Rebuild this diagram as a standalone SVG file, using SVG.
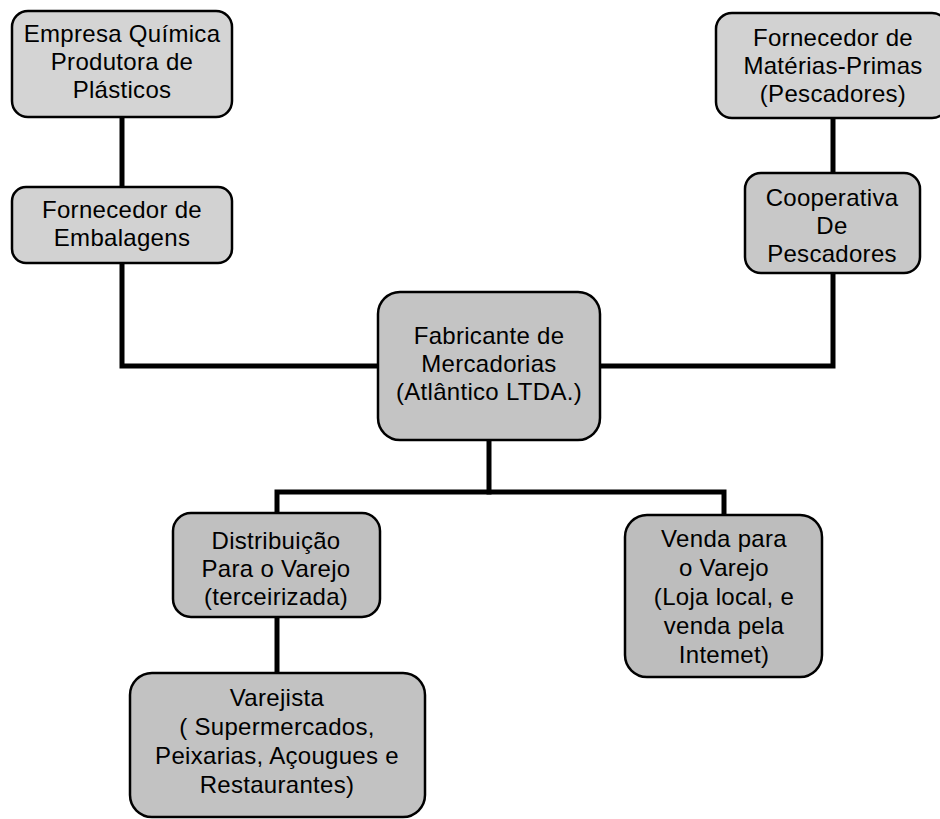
<svg xmlns="http://www.w3.org/2000/svg" width="940" height="819" viewBox="0 0 940 819">
<style>
.box{stroke:#000;stroke-width:2.5}
.t{font-family:"Liberation Sans",Arial,Helvetica,sans-serif;font-size:24px;letter-spacing:0.3px;fill:#000;text-anchor:middle}
.c{fill:none;stroke:#000;stroke-width:5;stroke-linejoin:miter;stroke-linecap:square}
</style>
<rect width="940" height="819" fill="#fff"/>
<g id="connectors">
<path class="c" d="M122,117 V187"/>
<path class="c" d="M122,263 V366 H378"/>
<path class="c" d="M833,118 V173"/>
<path class="c" d="M833,273 V366 H600"/>
<path class="c" d="M489,440 V492"/>
<path class="c" d="M277,513 V492 H724 V515"/>
<path class="c" d="M277,617 V673"/>
</g>
<g id="n1">
<rect class="box" x="12" y="11" width="220" height="106" rx="16" fill="#d4d4d4"/>
<text class="t" x="122" y="42">Empresa Química</text>
<text class="t" x="122" y="70">Produtora de</text>
<text class="t" x="122" y="98">Plásticos</text>
</g>
<g id="n2">
<rect class="box" x="12" y="187" width="220" height="76" rx="14" fill="#d2d2d2"/>
<text class="t" x="122" y="218">Fornecedor de</text>
<text class="t" x="122" y="246">Embalagens</text>
</g>
<g id="n3">
<rect class="box" x="716" y="13" width="232" height="105" rx="16" fill="#d2d2d2"/>
<text class="t" x="833" y="46">Fornecedor de</text>
<text class="t" x="833" y="74">Matérias-Primas</text>
<text class="t" x="833" y="102">(Pescadores)</text>
</g>
<g id="n4">
<rect class="box" x="745" y="173" width="175" height="100" rx="16" fill="#c8c8c8"/>
<text class="t" x="832" y="206">Cooperativa</text>
<text class="t" x="832" y="234">De</text>
<text class="t" x="832" y="262">Pescadores</text>
</g>
<g id="n5">
<rect class="box" x="378" y="292" width="222" height="148" rx="22" fill="#c4c4c4"/>
<text class="t" x="489" y="344">Fabricante de</text>
<text class="t" x="489" y="372">Mercadorias</text>
<text class="t" x="489" y="400">(Atlântico LTDA.)</text>
</g>
<g id="n6">
<rect class="box" x="173" y="513" width="207" height="104" rx="18" fill="#c0c0c0"/>
<text class="t" x="276" y="549">Distribuição</text>
<text class="t" x="276" y="577">Para o Varejo</text>
<text class="t" x="276" y="605">(terceirizada)</text>
</g>
<g id="n7">
<rect class="box" x="625" y="515" width="197" height="162" rx="22" fill="#bdbdbd"/>
<text class="t" x="724" y="547">Venda para</text>
<text class="t" x="724" y="576">o Varejo</text>
<text class="t" x="724" y="605">(Loja local, e</text>
<text class="t" x="724" y="634">venda pela</text>
<text class="t" x="724" y="663">Intemet)</text>
</g>
<g id="n8">
<rect class="box" x="130" y="673" width="295" height="144" rx="22" fill="#c2c2c2"/>
<text class="t" x="277" y="706">Varejista</text>
<text class="t" x="277" y="735">( Supermercados,</text>
<text class="t" x="277" y="764">Peixarias, Açougues e</text>
<text class="t" x="277" y="793">Restaurantes)</text>
</g>
</svg>
